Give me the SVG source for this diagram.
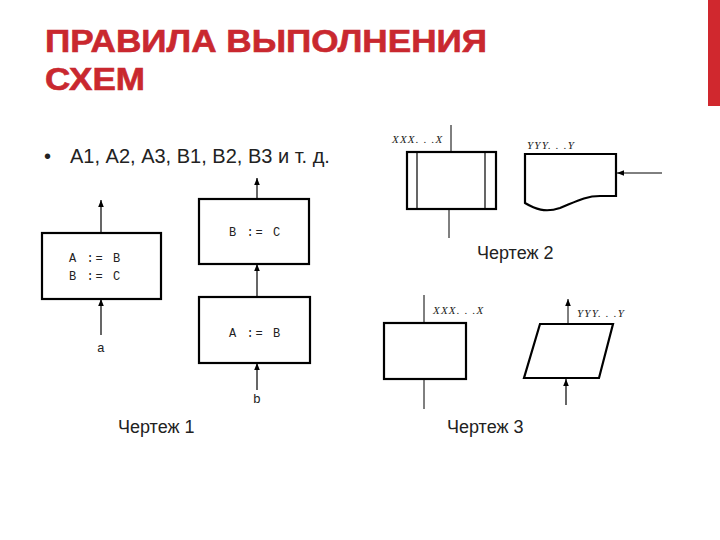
<svg xmlns="http://www.w3.org/2000/svg" width="720" height="540" viewBox="0 0 720 540">
<defs>
<style>
.title{font-family:"Liberation Sans",Arial,sans-serif;font-weight:bold;font-size:31px;fill:#c9282f;stroke:#c9282f;stroke-width:0.6}
.body{font-family:"Liberation Sans",Arial,sans-serif;font-size:20px;fill:#222}
.cap{font-family:"Liberation Sans",Arial,sans-serif;font-size:18px;fill:#222}
.code{font-family:"Liberation Mono","Courier New",monospace;font-size:12px;letter-spacing:1.6px;fill:#222}
.lbl{font-family:"Liberation Serif","Times New Roman",serif;font-style:italic;font-size:11px;letter-spacing:1.2px;fill:#222}
.io{font-family:"Liberation Mono","Courier New",monospace;font-size:13px;fill:#222}
.box{fill:#fff;stroke:#000;stroke-width:2.2}
.ln{fill:none;stroke:#000;stroke-width:1.2}
.thin{fill:none;stroke:#000;stroke-width:1}
</style>
<marker id="ah" viewBox="0 0 10 10" refX="10" refY="5" markerWidth="7" markerHeight="7" markerUnits="userSpaceOnUse" orient="auto">
<path d="M0,1 L10,5 L0,9 z" fill="#000"/>
</marker>
</defs>
<rect width="720" height="540" fill="#fff"/>
<rect x="708" y="0" width="12" height="106" fill="#d0282e"/>
<text class="title" x="45" y="52" textLength="442" lengthAdjust="spacingAndGlyphs">ПРАВИЛА ВЫПОЛНЕНИЯ</text>
<text class="title" x="45" y="90" textLength="100" lengthAdjust="spacingAndGlyphs">СХЕМ</text>
<text class="body" x="44" y="163">•</text>
<text class="body" x="70" y="163">А1, А2, А3, В1, В2, В3 и т. д.</text>

<g id="connectors">
<line class="ln" x1="101" y1="233" x2="101" y2="200" marker-end="url(#ah)"/>
<line class="ln" x1="101" y1="335" x2="101" y2="299" marker-end="url(#ah)"/>
<line class="ln" x1="257" y1="199" x2="257" y2="178" marker-end="url(#ah)"/>
<line class="ln" x1="257" y1="297" x2="257" y2="264" marker-end="url(#ah)"/>
<line class="ln" x1="257" y1="390" x2="257" y2="363" marker-end="url(#ah)"/>
<line class="thin" x1="451" y1="125" x2="451" y2="152"/>
<line class="thin" x1="449" y1="209" x2="449" y2="238"/>
<line class="thin" x1="662" y1="173" x2="617" y2="173" marker-end="url(#ah)"/>
<line class="thin" x1="424" y1="295" x2="424" y2="323"/>
<line class="thin" x1="424" y1="379" x2="424" y2="409"/>
<line class="thin" x1="568" y1="324" x2="568" y2="299" marker-end="url(#ah)"/>
<line class="ln" x1="566" y1="405" x2="566" y2="379" marker-end="url(#ah)"/>
</g>

<g id="box-ab-bc">
<rect class="box" x="42" y="233" width="119" height="66"/>
<text class="code" x="69" y="262">A := B</text>
<text class="code" x="69" y="280">B := C</text>
</g>
<text id="label-a" class="io" x="97" y="352">a</text>
<g id="box-bc">
<rect class="box" x="199" y="199" width="110" height="65"/>
<text class="code" x="229" y="236">B := C</text>
</g>
<g id="box-ab">
<rect class="box" x="199" y="297" width="111" height="66"/>
<text class="code" x="229" y="337">A := B</text>
</g>
<text id="label-b" class="io" x="253" y="403">b</text>
<text class="cap" x="118" y="433">Чертеж 1</text>

<g id="predefined-process">
<rect class="box" x="407" y="152" width="89" height="57" stroke-width="2"/>
<line class="ln" x1="417" y1="152" x2="417" y2="209" stroke-width="2"/>
<line class="ln" x1="485" y1="152" x2="485" y2="209" stroke-width="2"/>
<text class="lbl" x="392" y="143">XXX. . .X</text>
</g>
<g id="document">
<path class="box" stroke-width="2" d="M525,154 H616 V196 H600 C585,196 575,202 560,208 C545,213 535,209 525,203 Z"/>
<text class="lbl" x="527" y="149">YYY. . .Y</text>
</g>
<text class="cap" x="477" y="259">Чертеж 2</text>

<g id="process">
<rect class="box" x="384" y="323" width="82" height="56" stroke-width="2"/>
<text class="lbl" x="433" y="314">XXX. . .X</text>
</g>
<g id="data">
<polygon class="box" stroke-width="2" points="540,324 613,324 599,378 524,378"/>
<text class="lbl" x="577" y="317">YYY. . .Y</text>
</g>
<text class="cap" x="447" y="433">Чертеж 3</text>
</svg>
